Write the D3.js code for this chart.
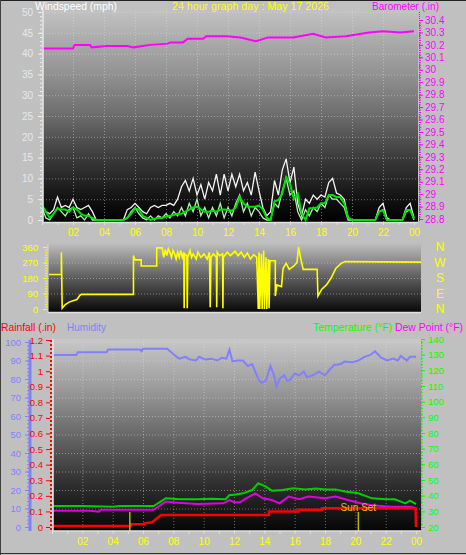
<!DOCTYPE html>
<html><head><meta charset="utf-8">
<script src="https://cdn.jsdelivr.net/npm/d3@7"></script>
<style>
body{margin:0;background:#c0c0c0;}
svg{display:block;}
text{font-family:"Liberation Sans",Arial,sans-serif;}
</style>
</head><body><svg id="c" width="466" height="555"></svg>
<script>
// ---------- DATA ----------
const hourTicks = [2,4,6,8,10,12,14,16,18,20,22,24];
const windTimes = d3.range(0, 24.001, 0.25);
const windGust = [3.5,2,1.5,2.5, 5.5,3,3.5,3, 5,3,2.5,3, 3.5,2,0,0, 0,0,0,0, 0,0,2.5,3,
  4,3,2,1.5, 3,3.5,3,3.5, 3.5,4,3.5,5, 8,9.5,7,10, 6,8.5,5,9, 7,11,6,11,
  7,11,8,11, 7,9,6,11.5, 7,3,1,2, 9.5,6,12,14.7, 9,12.7,4,1, 5,4,6,5,
  6,5.5,9,10, 6.5,6,5,0.5, 0,0,0,0, 0,0,0,3, 4,0.5,0,0, 0,0,3,4, 0.5];
const windSpeed = [3,0.5,0,1.5, 3,2,1,2.5, 3,0.5,1,0, 1.5,0,0,0, 0,0,0,0, 0,0,0.5,2,
  3,1.5,0.5,0, 1,0,1,0.5, 1.5,0.5,2,1, 3,1,4,2, 5,1,3,0.5, 3,1,4,0.5,
  3,1,4,6, 2,4,1,3, 2,0.5,0,0, 4,3,7,10, 6,7,2,0, 2.5,1,3,2,
  4,3,6,5, 5,4,3,0, 0,0,0,0, 0,0,0,2, 2.5,0,0,0, 0,0,2,2.5, 0];
const windAvg = [3.5,2,0.5,1.5, 2.8,2.5,2.5,2, 3,2.5,1.5,1, 1,0.5,0,0, 0,0,0,0, 0,0,0.5,1.5,
  2.8,2.5,1,0.5, 0,0.3,0.5,0.5, 0.8,1,1.2,1.5, 1.5,2,2.5,3, 3.2,2.5,2,2, 2.2,2,2.5,2.5,
  2.4,2.2,3,5.5, 4,3.2,3.2,3.2, 3.5,2.5,0.5,0, 4.5,4.8,6.3,10.3, 8.7,5,6.3,1.5, 0,2.8,2.8,3,
  4,4,6,6, 5.5,5.5,4,0.5, 0,0,0,0, 0,0,0,2, 2.4,0,0,0, 0,0,2.4,2.4, 0.3];
const baroHours = [0,2.0,2.1,3.1,3.2,4.2,5.5,5.9,7.0,8.1,8.3,9.1,9.4,10.4,10.6,11.9,12.8,13.8,14.6,16.2,17.5,18.3,19.6,21.1,22.0,23.1,24];
const baroValues = [30.17,30.17,30.20,30.20,30.18,30.19,30.19,30.18,30.20,30.21,30.22,30.22,30.25,30.25,30.27,30.27,30.26,30.23,30.26,30.26,30.29,30.26,30.27,30.30,30.31,30.30,30.31];

const dirHours = [0,0.8,0.8,0.85,0.9,1.05,1.3,1.6,1.8,2.0,2.1,5.45,5.45,5.55,5.95,5.95,6.95,6.95,7.3,7.4,7.5,7.6,7.7,7.8,7.9,8.0,8.1,8.2,8.3,8.4,8.5,8.6,8.7,8.72,8.75,8.9,8.92,8.95,9.1,9.2,9.3,9.5,9.6,9.8,10.0,10.2,10.35,10.4,10.45,10.6,10.8,10.82,10.85,11.0,11.2,11.22,11.25,11.5,11.7,12.0,12.2,12.4,12.6,12.8,13.0,13.2,13.4,13.5,13.55,13.6,13.7,13.75,13.85,13.9,14.0,14.05,14.15,14.2,14.25,14.6,14.6,14.7,15.0,15.1,15.3,15.5,15.8,16.0,16.1,16.25,16.4,17.3,17.35,17.6,17.9,18.2,18.5,18.85,19.1,24];
const dirValues = [200,200,330,5,10,25,40,50,55,80,85,85,310,285,285,250,250,355,355,300,345,310,350,330,300,340,320,290,330,300,340,300,330,5,320,310,5,300,340,300,320,290,330,300,320,290,330,10,300,320,300,10,330,310,320,5,300,330,310,335,310,330,300,325,290,315,300,0,330,0,320,0,340,0,300,0,290,5,280,280,75,140,130,235,265,230,250,270,360,290,230,230,75,115,140,180,235,265,275,272];

const humHours = [0,1.6,1.7,3.6,3.7,5.8,5.9,6.0,7.6,8.2,8.4,8.8,9.1,9.5,9.7,10.1,10.5,10.9,11.2,11.5,11.7,11.9,12.2,12.6,12.9,13.2,13.4,13.6,13.8,14.1,14.4,14.6,14.8,15.0,15.3,15.5,15.7,16.0,16.3,16.6,16.8,17.2,17.6,18.0,18.3,18.6,19.0,19.3,19.8,20.2,20.6,21.0,21.3,21.7,22.1,22.5,22.8,23.0,23.4,23.6,24];
const humValues = [93,93,94.5,94.5,96,96,95,96.3,96.3,92,91,92,90.5,90,92,90.5,91,90,91.5,91,95.8,89.5,90,90,87,88,84,80,78,79,87,83,76,80,82,79,79.5,83,82,84,81,82,84,82,85,87.6,88,89.4,89,90,92,93,95,91.5,90,91,90,92.5,90,92,92];

const tempHours = [0,2,4,4.5,6.7,7.5,8.4,9.5,10.5,11.45,11.7,11.9,12.6,13.2,13.6,14.1,14.5,15.2,15.9,16.7,17.4,18.0,18.7,19.3,20.2,21.1,22.0,22.6,23.3,23.6,24];
const tempValues = [33.4,33.4,33,33.4,33.4,38.3,37.7,37.7,38,37.7,40.4,40.4,41.5,43.6,47.9,45.8,43.2,43.6,44.7,44,44.5,44,44,42.6,41.5,38.3,37.7,37.7,35.1,36.8,34.6];
const dewHours = [0,2.5,3.1,3.2,6.7,7.5,8.3,9.6,11.3,11.7,12.0,12.4,12.8,13.4,13.9,14.5,15.0,15.6,16.3,16.9,18.0,18.7,19.5,20.6,21.5,22.4,23.7,24];
const dewValues = [30.4,30.4,29.8,31,31,36.2,35.5,34.7,35.1,37.2,35.8,35.8,38.3,41.5,38.3,37.2,35.1,39.4,37.7,39.4,38.3,39.4,37.2,34.5,33.5,33,33,31.7];
const rainHours = [0,5.2,5.2,6.1,6.1,6.6,7.2,14.3,14.3,16.25,16.25,17.8,17.8,23.97,24];
const rainValues = [0.006,0.006,0.017,0.017,0.024,0.03,0.077,0.077,0.1,0.1,0.11,0.11,0.12,0.12,0];
const sunHours = [5.13, 20.2];
const sunLabels = ["", "Sun Set"];

// ---------- DRAW ----------
const svg = d3.select("#c");
const defs = svg.append("defs");
function grad(id, stops){
  const g = defs.append("linearGradient").attr("id", id).attr("x1",0).attr("y1",0).attr("x2",0).attr("y2",1);
  stops.forEach(s => g.append("stop").attr("offset", s[0]).attr("stop-color", s[1]));
}
grad("gTop", [[0,"#c2c2c2"],[0.3,"#929292"],[0.5,"#6c6c6c"],[0.7,"#3a3a3a"],[0.9,"#101010"],[1,"#000"]]);
grad("gMid", [[0,"#bcbcbc"],[0.5,"#5c5c5c"],[1,"#080808"]]);
grad("gBot", [[0,"#c8c8c8"],[0.25,"#9c9c9c"],[0.5,"#686868"],[0.75,"#303030"],[1,"#060606"]]);

const fmtHour = d => String(d % 24).padStart(2, "0");
const gridStyle = g => g.selectAll("line").attr("stroke", "#e0e0e0").attr("stroke-opacity", 0.45).attr("stroke-dasharray", "1,2");

// ===== TOP: wind & barometer =====
const xTop = d3.scaleLinear([0,24],[42,414]);
const yWind = d3.scaleLinear([0,50],[220,12]);
const yBaro = d3.scaleLinear([28.8,30.4],[219,20]);
svg.append("rect").attr("x",43).attr("y",10).attr("width",375).attr("height",212).attr("fill","url(#gTop)");
svg.append("g").attr("transform","translate(43,0)")
  .call(d3.axisLeft(yWind).tickValues(d3.range(5,51,5)).tickSize(-375).tickFormat(""))
  .call(g => g.select(".domain").remove()).call(gridStyle);
svg.append("g").attr("transform","translate(0,222)")
  .call(d3.axisBottom(xTop).tickValues(hourTicks.slice(0,-1)).tickSize(-212).tickFormat(""))
  .call(g => g.select(".domain").remove()).call(gridStyle);

const lineW = (arr) => d3.line().x((d,i) => xTop(windTimes[i])).y(d => yWind(d))(arr);
svg.append("path").attr("d", lineW(windGust)).attr("fill","none").attr("stroke","#f4f4f4").attr("stroke-width",1.3);
svg.append("path").attr("d", lineW(windSpeed)).attr("fill","none").attr("stroke","#b0f0b0").attr("stroke-width",1.3);
svg.append("path").attr("d", lineW(windAvg)).attr("fill","none").attr("stroke","#00e000").attr("stroke-width",2);
svg.append("path").attr("d", d3.line().x((d,i)=>xTop(baroHours[i])).y(d=>yBaro(d))(baroValues))
  .attr("fill","none").attr("stroke","#ff00ff").attr("stroke-width",2);

svg.append("line").attr("x1",43).attr("x2",43).attr("y1",10).attr("y2",223).attr("stroke","#e8e8e8").attr("stroke-width",1.5);
svg.append("line").attr("x1",43).attr("x2",418).attr("y1",222.5).attr("y2",222.5).attr("stroke","#e0e0e0").attr("stroke-width",1.5);
svg.append("g").attr("transform","translate(42,0)")
  .call(d3.axisLeft(yWind).tickValues(d3.range(0,51,1)).tickSize(2).tickFormat(""))
  .call(g => g.select(".domain").remove()).call(g => g.selectAll("line").attr("stroke","#f0f0f0"));
svg.append("g").attr("transform","translate(42,0)")
  .call(d3.axisLeft(yWind).tickValues(d3.range(0,51,5)).tickSize(4).tickPadding(5))
  .call(g => g.select(".domain").remove())
  .call(g => g.selectAll("line").attr("stroke","#f0f0f0"))
  .call(g => g.selectAll("text").attr("fill","#e8e8e8").attr("font-size",10).attr("font-family","Liberation Sans, Arial"));
svg.append("line").attr("x1",419.5).attr("x2",419.5).attr("y1",12).attr("y2",222).attr("stroke","#ff00ff").attr("stroke-dasharray","1,1");
svg.append("g").attr("transform","translate(419,0)")
  .call(d3.axisRight(yBaro).tickValues(d3.range(28.8,30.41,0.02)).tickSize(2).tickFormat(""))
  .call(g => g.select(".domain").remove()).call(g => g.selectAll("line").attr("stroke","#ff00ff"));
svg.append("g").attr("transform","translate(419,0)")
  .call(d3.axisRight(yBaro).tickValues(d3.range(0,17).map(i => 28.8 + i*0.1)).tickSize(4).tickPadding(2).tickFormat(d => String(+d.toFixed(1))))
  .call(g => g.select(".domain").remove())
  .call(g => g.selectAll("line").attr("stroke","#ff00ff"))
  .call(g => g.selectAll("text").attr("fill","#ff00ff").attr("font-size",10).attr("font-family","Liberation Sans, Arial"));
svg.append("g").attr("transform","translate(0,222)")
  .call(d3.axisBottom(xTop).tickValues(d3.range(0,25)).tickSize(3).tickFormat(""))
  .call(g => g.select(".domain").remove()).call(g => g.selectAll("line").attr("stroke","#e0e0e0"));
svg.append("g").attr("transform","translate(0,222)")
  .call(d3.axisBottom(xTop).tickValues(hourTicks).tickSize(0).tickPadding(7).tickFormat(fmtHour))
  .call(g => g.select(".domain").remove())
  .call(g => g.selectAll("text").attr("fill","#ffff00").attr("font-size",10).attr("font-family","Liberation Sans, Arial"));

const title = (x, y, t, c, w) => svg.append("text").attr("x",x).attr("y",y).attr("fill",c)
  .attr("font-size",11).attr("textLength",w).attr("lengthAdjust","spacingAndGlyphs").text(t);
title(35, 10, "Windspeed (mph)", "#ffffff", 82);
title(172, 10, "24 hour graph day : May 17 2026", "#ffff00", 157);
title(372, 10, "Barometer (.in)", "#ff00ff", 67);

// ===== MIDDLE: wind direction =====
const xDir = d3.scaleLinear([0,24],[49,421]);
const yDir = d3.scaleLinear([0,360],[309,247]);
svg.append("rect").attr("x",48).attr("y",244).attr("width",373).attr("height",68).attr("fill","url(#gMid)");
svg.append("g").attr("transform","translate(48,0)")
  .call(d3.axisLeft(yDir).tickValues([90,180,270]).tickSize(-373).tickFormat(""))
  .call(g => g.select(".domain").remove()).call(gridStyle);
svg.append("path").attr("d", d3.line().x((d,i)=>xDir(dirHours[i])).y(d=>yDir(d))(dirValues))
  .attr("fill","none").attr("stroke","#ffff00").attr("stroke-width",1.6);
svg.append("line").attr("x1",48).attr("x2",421).attr("y1",312.5).attr("y2",312.5).attr("stroke","#e0e0e0").attr("stroke-width",1.5);
svg.append("line").attr("x1",48).attr("x2",48).attr("y1",244).attr("y2",313).attr("stroke","#d8d8d8").attr("stroke-width",1);
svg.append("g").attr("transform","translate(47,0)")
  .call(d3.axisLeft(yDir).tickValues(d3.range(0,361,15)).tickSize(2).tickFormat(""))
  .call(g => g.select(".domain").remove()).call(g => g.selectAll("line").attr("stroke","#ffff00"));
svg.append("g").attr("transform","translate(47,0)")
  .call(d3.axisLeft(yDir).tickValues([0,90,180,270,360]).tickSize(4).tickPadding(5))
  .call(g => g.select(".domain").remove())
  .call(g => g.selectAll("line").attr("stroke","#ffff00"))
  .call(g => g.selectAll("text").attr("fill","#ffff00").attr("font-size",9.5).attr("font-family","Liberation Sans, Arial"));
const compass = [360,270,180,90,0];
const compassLabels = ["N","W","S","E","N"];
svg.append("g").selectAll("text").data(compass).join("text")
  .attr("x",440).attr("y",d=>yDir(d)).attr("dy","0.36em").attr("text-anchor","middle")
  .attr("fill","#ffff00").attr("font-size",12).text((d,i)=>compassLabels[i]);

// ===== BOTTOM: rain, humidity, temp, dew point =====
const xBot = d3.scaleLinear([0,24],[52,416]);
const yHum = d3.scaleLinear([0,100],[527,342]);
const yRain = d3.scaleLinear([0,1.2],[527,340]);
const yTemp = d3.scaleLinear([20,140],[527,339]);
svg.append("rect").attr("x",53).attr("y",339).attr("width",368).attr("height",192).attr("fill","url(#gBot)");
svg.append("g").attr("transform","translate(53,0)")
  .call(d3.axisLeft(yHum).tickValues(d3.range(10,101,10)).tickSize(-368).tickFormat(""))
  .call(g => g.select(".domain").remove()).call(gridStyle);
svg.append("g").attr("transform","translate(0,531)")
  .call(d3.axisBottom(xBot).tickValues(hourTicks.slice(0,-1)).tickSize(-192).tickFormat(""))
  .call(g => g.select(".domain").remove()).call(gridStyle);

const lineB = (hs, vs, y) => d3.line().x((d,i)=>xBot(hs[i])).y(d=>y(d))(vs);
svg.append("path").attr("d", lineB(humHours, humValues, yHum)).attr("fill","none").attr("stroke","#8080ff").attr("stroke-width",2);
svg.append("path").attr("d", lineB(tempHours, tempValues, yTemp)).attr("fill","none").attr("stroke","#00d000").attr("stroke-width",2);
svg.append("path").attr("d", lineB(dewHours, dewValues, yTemp)).attr("fill","none").attr("stroke","#e000e0").attr("stroke-width",2);
svg.append("path").attr("d", lineB(rainHours, rainValues, yRain)).attr("fill","none").attr("stroke","#ff0000").attr("stroke-width",2.5);
svg.append("g").selectAll("line").data(sunHours).join("line")
  .attr("x1",d=>xBot(d)).attr("x2",d=>xBot(d)).attr("y1",512).attr("y2",531)
  .attr("stroke","#b8b800").attr("stroke-width",1.5);
svg.append("g").selectAll("text").data(sunHours).join("text")
  .attr("x",d=>xBot(d)).attr("y",511).attr("text-anchor","middle")
  .attr("fill","#e0c000").attr("font-size",10).text((d,i)=>sunLabels[i]);

svg.append("line").attr("x1",53).attr("x2",421).attr("y1",531).attr("y2",531).attr("stroke","#e0e0e0").attr("stroke-width",1.5);
svg.append("line").attr("x1",53).attr("x2",53).attr("y1",339).attr("y2",531).attr("stroke","#e8e8e8").attr("stroke-width",1.5);
svg.append("g").attr("transform","translate(0,531)")
  .call(d3.axisBottom(xBot).tickValues(d3.range(0,25)).tickSize(3).tickFormat(""))
  .call(g => g.select(".domain").remove()).call(g => g.selectAll("line").attr("stroke","#e0e0e0"));
svg.append("g").attr("transform","translate(0,531)")
  .call(d3.axisBottom(xBot).tickValues(hourTicks).tickSize(0).tickPadding(7).tickFormat(fmtHour))
  .call(g => g.select(".domain").remove())
  .call(g => g.selectAll("text").attr("fill","#ffff00").attr("font-size",10).attr("font-family","Liberation Sans, Arial"));
svg.append("line").attr("x1",30).attr("x2",30).attr("y1",340).attr("y2",531).attr("stroke","#8080ff").attr("stroke-width",3);
svg.append("g").attr("transform","translate(29,0)")
  .call(d3.axisLeft(yHum).tickValues(d3.range(0,101,2)).tickSize(2).tickFormat(""))
  .call(g => g.select(".domain").remove()).call(g => g.selectAll("line").attr("stroke","#8080ff"));
svg.append("g").attr("transform","translate(29,0)")
  .call(d3.axisLeft(yHum).tickValues(d3.range(0,101,10)).tickSize(4).tickPadding(4))
  .call(g => g.select(".domain").remove())
  .call(g => g.selectAll("line").attr("stroke","#8080ff"))
  .call(g => g.selectAll("text").attr("fill","#8080ff").attr("font-size",9.5).attr("font-family","Liberation Sans, Arial"));
svg.append("line").attr("x1",51).attr("x2",51).attr("y1",340).attr("y2",531).attr("stroke","#ff0000").attr("stroke-width",2).attr("stroke-dasharray","2,2");
svg.append("g").attr("transform","translate(50,0)")
  .call(d3.axisLeft(yRain).tickValues(d3.range(0,13).map(i=>i/10)).tickSize(4).tickPadding(3).tickFormat(d=>String(+d.toFixed(1))))
  .call(g => g.select(".domain").remove())
  .call(g => g.selectAll("line").attr("stroke","#ff0000"))
  .call(g => g.selectAll("text").attr("fill","#ff0000").attr("font-size",9.5).attr("font-family","Liberation Sans, Arial"));
svg.append("line").attr("x1",421.5).attr("x2",421.5).attr("y1",339).attr("y2",531).attr("stroke","#00ff00").attr("stroke-dasharray","1,1");
svg.append("g").attr("transform","translate(421,0)")
  .call(d3.axisRight(yTemp).tickValues(d3.range(20,141,2)).tickSize(2).tickFormat(""))
  .call(g => g.select(".domain").remove()).call(g => g.selectAll("line").attr("stroke","#00ff00"));
svg.append("g").attr("transform","translate(421,0)")
  .call(d3.axisRight(yTemp).tickValues(d3.range(20,141,10)).tickSize(4).tickPadding(3))
  .call(g => g.select(".domain").remove())
  .call(g => g.selectAll("line").attr("stroke","#00ff00"))
  .call(g => g.selectAll("text").attr("fill","#00ff00").attr("font-size",9.5).attr("font-family","Liberation Sans, Arial"));
title(1, 331, "Rainfall (.in)", "#ff0000", 55);
title(67, 331, "Humidity", "#8080ff", 39);
title(313, 331, "Temperature (°F)", "#00ff00", 79);
title(395, 331, "Dew Point (°F)", "#ff00ff", 68);

svg.append("line").attr("x1",0).attr("x2",466).attr("y1",0.5).attr("y2",0.5).attr("stroke","#202020");
svg.append("line").attr("x1",0.5).attr("x2",0.5).attr("y1",0).attr("y2",555).attr("stroke","#404040");
svg.append("line").attr("x1",0).attr("x2",466).attr("y1",553.5).attr("y2",553.5).attr("stroke","#303030");
</script></body></html>
